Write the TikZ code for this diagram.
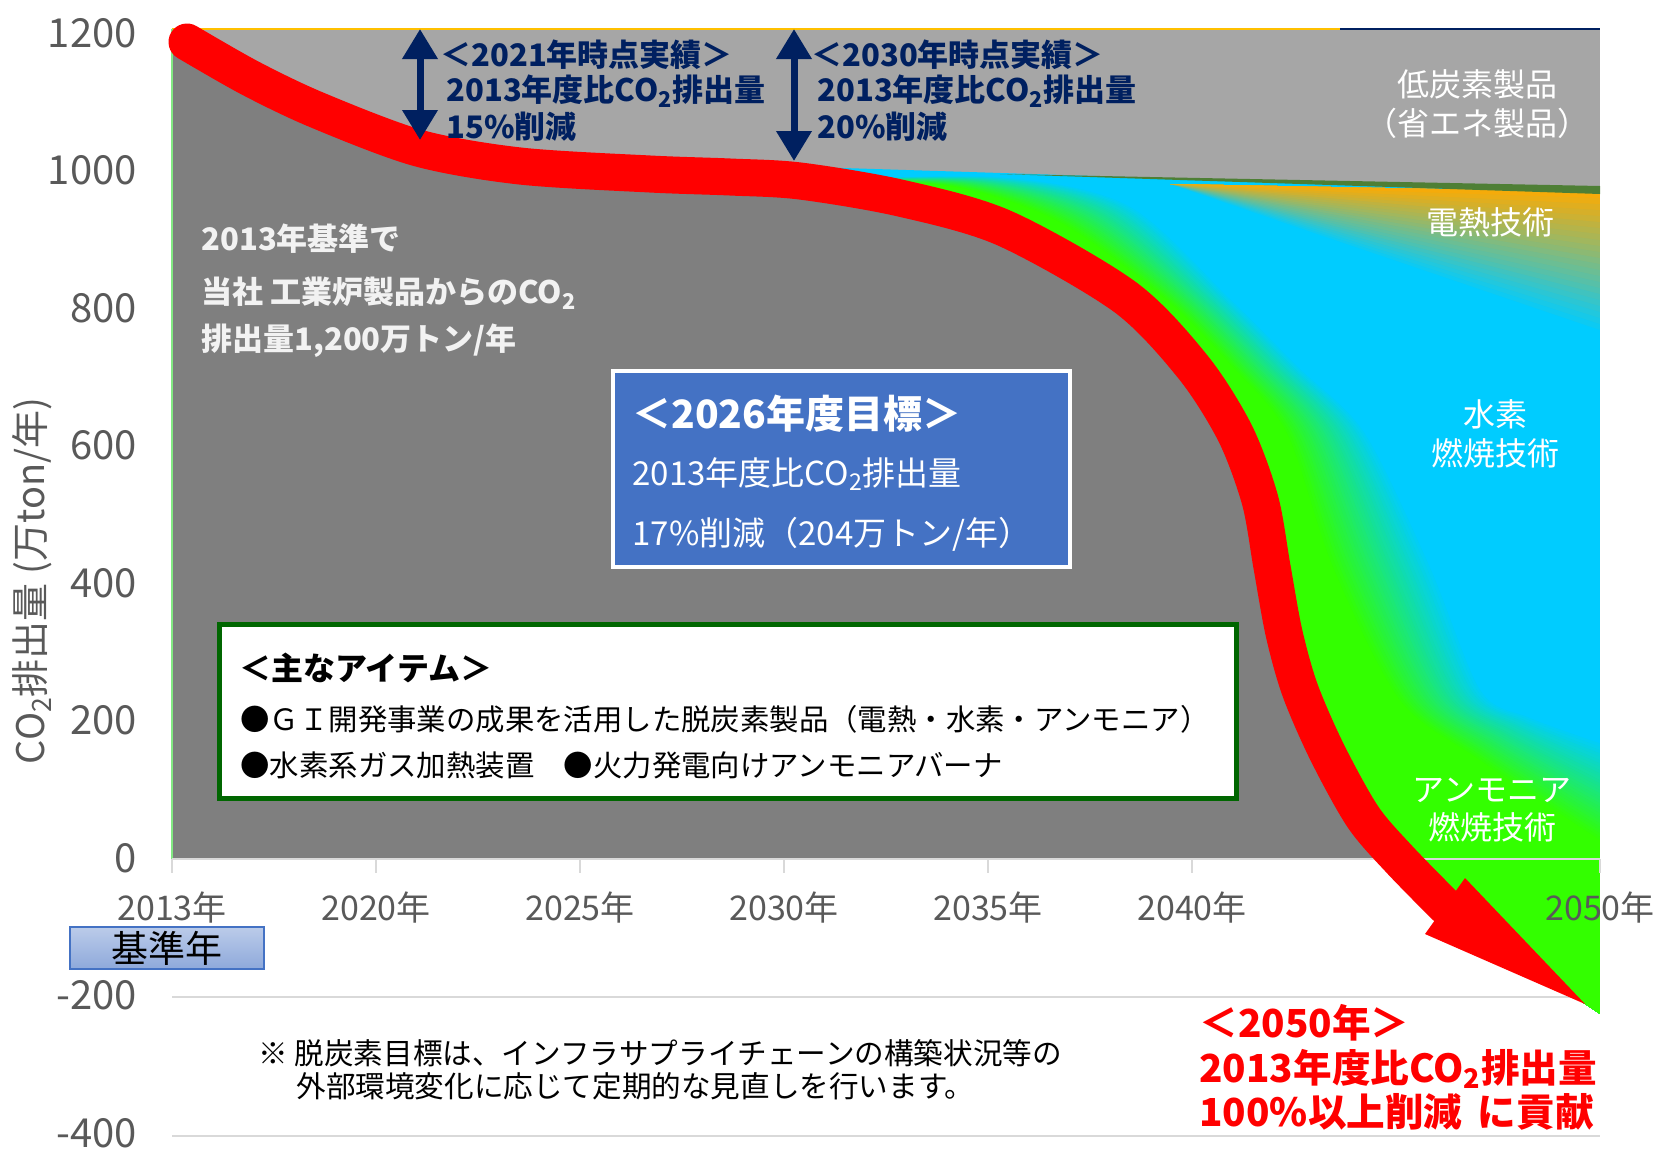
\documentclass[tikz,border=0pt]{standalone}
\usepackage{fontspec}
\setmainfont{Noto Sans CJK JP}
\usepackage{xcolor}
\usepackage{tikz}
\usetikzlibrary{arrows.meta,calc,positioning}

\definecolor{plotdark}{HTML}{7F7F7F}
\definecolor{plotlight}{HTML}{A6A6A6}
\definecolor{axisgray}{HTML}{595959}
\definecolor{gridgray}{HTML}{D9D9D9}
\definecolor{navy}{HTML}{002060}
\definecolor{boxblue}{HTML}{4472C4}
\definecolor{boxgreen}{HTML}{006600}
\definecolor{baseblue}{HTML}{8EA9DB}
\definecolor{h2cyan}{HTML}{00CCFF}
\definecolor{nh3green}{HTML}{33FF00}
\definecolor{heatorange}{HTML}{FFAA00}
\definecolor{edgegreen}{HTML}{4E7F35}
\definecolor{topyellow}{HTML}{FFC000}

\newcommand{\ptsize}[1]{\fontsize{#1}{1.2\dimexpr#1pt\relax}\selectfont}

\begin{document}
\begin{tikzpicture}[x=0.5pt, y=-0.5pt,
		axislabel/.style={text=axisgray, font=\ptsize{20}, anchor=east, inner sep=0pt, text height=15pt, text depth=0pt},
		yearlabel/.style={text=axisgray, font=\ptsize{17}, inner sep=0pt},
		gridline/.style={draw=gridgray, line width=1pt}]
		\tikzset{navytext/.style={text=navy, font=\ptsize{15.5}\bfseries, anchor=west, inner sep=0pt},
			techlabel/.style={text=white, font=\ptsize{16}, align=center, inner sep=0pt},
			boxtext/.style={anchor=west, inner sep=0pt},
			redtext/.style={text=red, font=\ptsize{19.3}\bfseries, anchor=west, inner sep=0pt},
			spanarrow/.style={draw=navy, line width=3.5pt, {Triangle[length=15pt,width=17pt]}-{Triangle[length=15pt,width=17pt]}}}

		\useasboundingbox (0,0) rectangle (1657,1151);

		% Grid below zero
		\draw[gridline] (172,997.3) -- (1600,997.3);
		\draw[gridline] (172,1135.5) -- (1600,1135.5);

		% Red curve points
		\foreach \x/\y [count=\i] in {187/42,250/78,317/110,418/148,520/166,650/174,730/177,800/181,900/198,1004/228,1125/297,1193/367,1235/433,1260/500,1272/567,1284/633,1300/690,1327/752,1363/817,1400/860,1445/906}
			\coordinate (r\i) at (\x,\y);
		\coordinate (tip) at (1585,1004);
		\coordinate (barbup) at (1465,878);
		\coordinate (barbdown) at (1425,934);

		% Green edge and cyan edge of the gradient
		\foreach \x/\y [count=\i] in {1600/840,1480/760,1400/700,1333/567,1287/433,1233/367,1167/300,1060/222,950/186}
			\coordinate (g\i) at (\x,\y);
		\foreach \x/\y [count=\i] in {1600/740,1530/716,1483/690,1433/567,1367/433,1300/367,1233/300,1130/205,1000/177}
			\coordinate (c\i) at (\x,\y);

		% Plot area
		\fill[plotlight] (172,28.5) rectangle (1600,859);
		\fill[plotdark] (172,28.5) -- plot[smooth] coordinates {(r1) (r2) (r3) (r4) (r5) (r6) (r7) (r8) (r9) (r10) (r11) (r12) (r13) (r14) (r15) (r16) (r17) (r18) (r19) (r20)} -- (172,859) -- cycle;

		% Technology area
		\begin{scope}
			\clip plot[smooth] coordinates {(r8) (r9) (r10) (r11) (r12) (r13) (r14) (r15) (r16) (r17) (r18) (r19) (r20) (r21)} -- (tip) -- (1600,1014) -- (1600,192) -- (780,166) -- cycle;
			\fill[h2cyan] (700,150) rectangle (1600,1020);
			\foreach \k in {24,23,...,1}{
				\pgfmathtruncatemacro\mix{100*\k/24}
				\fill[fill=h2cyan!\mix!heatorange] (1170,184) -- (1600,192) -- (1600,{192+6*\k}) -- cycle;
			}
			\foreach \k in {30,29,...,0}{
				\pgfmathsetmacro\tpos{\k/30}
				\pgfmathtruncatemacro\mix{100*\k/30}
				\foreach \j in {1,...,9} \coordinate (q\j) at ($(g\j)!\tpos!(c\j)$);
				\fill[fill=h2cyan!\mix!nh3green] plot[smooth] coordinates {(r8) (r9) (r10) (r11) (r12) (r13) (r14) (r15) (r16) (r17) (r18) (r19) (r20) (r21)} -- (tip) -- (1600,1014) -- plot[smooth] coordinates {(q1) (q2) (q3) (q4) (q5) (q6) (q7) (q8) (q9) (r8)} -- cycle;
			}
		\end{scope}
		\fill[edgegreen] (1000,174) -- (1600,186) -- (1600,194) -- cycle;

		% Frame lines
		\draw[topyellow, line width=1pt] (172,28.5) -- (1340,28.5);
		\draw[navy, line width=1pt] (1340,28.5) -- (1600,28.5);
		\draw[green!40!gridgray, line width=0.6pt] (172,28.5) -- (172,859);
		\draw[gridline] (172,859) -- (1600,859);
		\foreach \i in {0,...,7}
			\draw[gridline] ({172+204*\i},859) -- ({172+204*\i},873);

		% Red arrow
		\draw[red, line width=18.5pt, line cap=round] plot[smooth] coordinates {(r1) (r2) (r3) (r4) (r5) (r6) (r7) (r8) (r9) (r10) (r11) (r12) (r13) (r14) (r15) (r16) (r17) (r18) (r19) (r20) (r21)};
		\fill[red] (barbup) -- (tip) -- (barbdown) -- cycle;

		% Axis labels
		\foreach \v in {1200,1000,...,-400}
			\node[axislabel] (ytick\v) at (137,{857-0.6875*\v}) {\v};
		\foreach \yr [count=\i from 0] in {2013,2020,2025,2030,2035,2040}
			\node[yearlabel] (year\yr) at ({172+204*\i},907) {\yr 年};
		\node[yearlabel] (year2050) at (1600,907) {2050年};
		\node[rotate=90, text=axisgray, font=\ptsize{19}, inner sep=0pt] (ytitle) at (32,581) {CO\textsubscript{2}排出量 (万ton/年)};
		\node[draw=boxblue, line width=1pt, top color=baseblue!60!white, bottom color=baseblue, minimum width=97pt, minimum height=21pt, inner sep=0pt, font=\ptsize{18.5}] (baseyear) at (167,948) {基準年};

		% Achievements
		\coordinate (span21top) at (420,29);
		\coordinate (span21bot) at (420,140);
		\coordinate (span30top) at (794,29);
		\coordinate (span30bot) at (794,161);
		\draw[spanarrow] (span21top) -- (span21bot);
		\draw[spanarrow] (span30top) -- (span30bot);
		\node[navytext] (ach21a) at (440,55) {＜2021年時点実績＞};
		\node[navytext] (ach21b) at (446,91) {2013年度比CO\textsubscript{2}排出量};
		\node[navytext] (ach21c) at (446,127) {15\%削減};
		\node[navytext] (ach30a) at (811,55) {＜2030年時点実績＞};
		\node[navytext] (ach30b) at (817,91) {2013年度比CO\textsubscript{2}排出量};
		\node[navytext] (ach30c) at (817,127) {20\%削減};

		% Baseline text
		\node[boxtext, text=white!95!black, font=\ptsize{15.5}\bfseries] (basis1) at (201,239) {2013年基準で};
		\node[boxtext, text=white!95!black, font=\ptsize{15.5}\bfseries] (basis2) at (201,293) {当社 工業炉製品からのCO\textsubscript{2}};
		\node[boxtext, text=white!95!black, font=\ptsize{15.5}\bfseries] (basis3) at (201,341) {排出量1,200万トン/年};

		% Technology labels
		\node[techlabel] (lowcarbon) at (1477,104) {低炭素製品\\（省エネ製品）};
		\node[techlabel] (elheat) at (1490,222) {電熱技術};
		\node[techlabel] (h2burn) at (1495,434) {水素\\燃焼技術};
		\node[techlabel] (nh3burn) at (1492,810) {アンモニア\\燃焼技術};

		% 2026 target
		\node[draw=white, line width=2pt, fill=boxblue, minimum width=228.5pt, minimum height=98pt, anchor=north west] (target) at (611,369) {};
		\node[boxtext, text=white, font=\ptsize{19.5}\bfseries] (targettitle) at (632,414) {＜2026年度目標＞};
		\node[boxtext, text=white, font=\ptsize{16.5}] (targetline1) at (632,474) {2013年度比CO\textsubscript{2}排出量};
		\node[boxtext, text=white, font=\ptsize{16.5}] (targetline2) at (632,534) {17\%削減（204万トン/年）};

		% Main items
		\node[draw=boxgreen, line width=2.5pt, fill=white, minimum width=508.5pt, minimum height=87pt, anchor=north west] (items) at (217,622) {};
		\node[boxtext, font=\ptsize{16}\bfseries] (itemstitle) at (239,668) {＜主なアイテム＞};
		\node[boxtext, font=\ptsize{14.7}] (itemsline1) at (240,719) {●ＧＩ開発事業の成果を活用した脱炭素製品（電熱・水素・アンモニア）};
		\node[boxtext, font=\ptsize{14.7}] (itemsline2) at (240,765) {●水素系ガス加熱装置　●火力発電向けアンモニアバーナ};

		% 2050 goal
		\node[redtext] (goal1) at (1199,1023) {＜2050年＞};
		\node[redtext] (goal2) at (1199,1069) {2013年度比CO\textsubscript{2}排出量};
		\node[redtext] (goal3) at (1199,1112) {100\%以上削減\hspace{0.4em}に貢献};

		% Note
		\node[boxtext, font=\ptsize{14.8}] (note1) at (258,1053) {※ 脱炭素目標は、インフラサプライチェーンの構築状況等の};
		\node[boxtext, font=\ptsize{14.8}] (note2) at (296,1086) {外部環境変化に応じて定期的な見直しを行います。};

	\end{tikzpicture}
\end{document}
